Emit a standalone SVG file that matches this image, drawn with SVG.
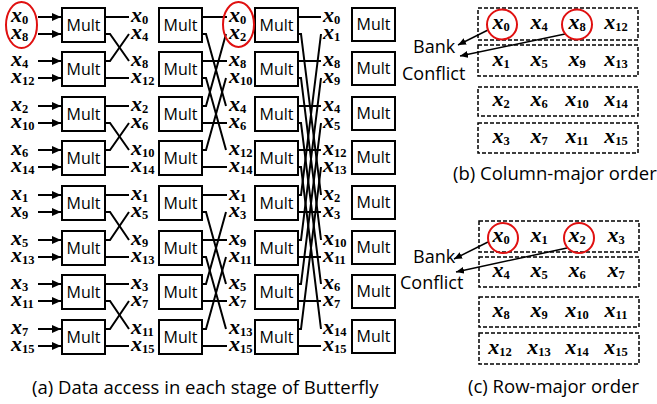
<svg xmlns="http://www.w3.org/2000/svg" width="657" height="404" viewBox="0 0 657 404">
<style>
.box{fill:#fff;stroke:#000;stroke-width:2}
.mt{font-family:"Open Sans",sans-serif;font-size:16px;text-anchor:middle;fill:#000}
.m{font-family:"Liberation Serif",serif;font-weight:bold;font-style:italic;font-size:22px;fill:#000}
.c{text-anchor:middle}
.s{font-style:normal;font-size:12.5px}
.w{fill:none;stroke:#000;stroke-width:2}
.a{fill:none;stroke:#000;stroke-width:1.5}
.red{fill:none;stroke:#e01010;stroke-width:2}
.bank{fill:none;stroke:#000;stroke-width:1.5;stroke-dasharray:4 2}
.cap{font-family:"Open Sans",sans-serif;font-size:18.5px;fill:#000}
.bk{font-family:"Open Sans",sans-serif;font-size:18px;fill:#000}
</style>
<defs>
<marker id="ah" markerUnits="userSpaceOnUse" markerWidth="9" markerHeight="8" refX="9" refY="4" orient="auto"><path d="M0,0 L9,4 L0,8 z" fill="#000"/></marker>
<marker id="ah2" markerUnits="userSpaceOnUse" markerWidth="8" markerHeight="7" refX="8" refY="3.5" orient="auto"><path d="M0,0 L8,3.5 L0,7 z" fill="#000"/></marker>
</defs>

<g id="connectors">
<g class="w" marker-end="url(#ah)">
<path d="M38 17H61"/><path d="M38 34H61"/><path d="M38 61H61"/><path d="M38 78H61"/>
<path d="M38 106H61"/><path d="M38 123H61"/><path d="M38 150H61"/><path d="M38 167H61"/>
<path d="M38 195H61"/><path d="M38 212H61"/><path d="M38 240H61"/><path d="M38 257H61"/>
<path d="M38 284H61"/><path d="M38 301H61"/><path d="M38 329H61"/><path d="M38 346H61"/>
</g>
<g class="w">
<path d="M105 17H129"/><path d="M105 34H110L129 61"/><path d="M105 61H110L129 34"/><path d="M105 78H129"/>
<path d="M105 106H129"/><path d="M105 123H110L129 150"/><path d="M105 150H110L129 123"/><path d="M105 167H129"/>
<path d="M105 195H129"/><path d="M105 212H110L129 240"/><path d="M105 240H110L129 212"/><path d="M105 257H129"/>
<path d="M105 284H129"/><path d="M105 301H110L129 329"/><path d="M105 329H110L129 301"/><path d="M105 346H129"/>

<path d="M202 17H227"/><path d="M202 34H206L226 106"/><path d="M202 61H227"/><path d="M202 78H206L226 150"/>
<path d="M202 106H206L226 34"/><path d="M202 123H227"/><path d="M202 150H206L226 78"/><path d="M202 167H227"/>
<path d="M202 195H227"/><path d="M202 212H206L226 284"/><path d="M202 240H227"/><path d="M202 257H206L226 329"/>
<path d="M202 284H206L226 212"/><path d="M202 301H227"/><path d="M202 329H206L226 257"/><path d="M202 346H227"/>

<path d="M298 17H321"/><path d="M298 34H301L321 195"/><path d="M298 61H321"/><path d="M298 78H301L321 240"/>
<path d="M298 106H321"/><path d="M298 123H301L321 284"/><path d="M298 150H321"/><path d="M298 167H301L321 329"/>
<path d="M298 195H301L321 34"/><path d="M298 212H321"/><path d="M298 240H301L321 78"/><path d="M298 257H321"/>
<path d="M298 284H301L321 123"/><path d="M298 301H321"/><path d="M298 329H301L321 167"/><path d="M298 346H321"/>
</g>
<g class="a" marker-end="url(#ah2)">
<path d="M488 30L458 45"/><path d="M565 34L460 56"/>
<path d="M488 242L454 259"/><path d="M567 248L456 272"/>
</g>
</g>

<g id="stage1">
<g id="s1b1"><rect class="box" x="62" y="8" width="43" height="34"/><text class="mt" x="83.5" y="30.5">Mult</text></g>
<g id="s1b2"><rect class="box" x="62" y="52" width="43" height="34"/><text class="mt" x="83.5" y="74.5">Mult</text></g>
<g id="s1b3"><rect class="box" x="62" y="97" width="43" height="34"/><text class="mt" x="83.5" y="119.5">Mult</text></g>
<g id="s1b4"><rect class="box" x="62" y="141" width="43" height="34"/><text class="mt" x="83.5" y="163.5">Mult</text></g>
<g id="s1b5"><rect class="box" x="62" y="186" width="43" height="34"/><text class="mt" x="83.5" y="208.5">Mult</text></g>
<g id="s1b6"><rect class="box" x="62" y="231" width="43" height="34"/><text class="mt" x="83.5" y="253.5">Mult</text></g>
<g id="s1b7"><rect class="box" x="62" y="275" width="43" height="34"/><text class="mt" x="83.5" y="297.5">Mult</text></g>
<g id="s1b8"><rect class="box" x="62" y="320" width="43" height="34"/><text class="mt" x="83.5" y="342.5">Mult</text></g>
</g>
<g id="stage2">
<g id="s2b1"><rect class="box" x="159" y="8" width="43" height="34"/><text class="mt" x="180.5" y="30.5">Mult</text></g>
<g id="s2b2"><rect class="box" x="159" y="52" width="43" height="34"/><text class="mt" x="180.5" y="74.5">Mult</text></g>
<g id="s2b3"><rect class="box" x="159" y="97" width="43" height="34"/><text class="mt" x="180.5" y="119.5">Mult</text></g>
<g id="s2b4"><rect class="box" x="159" y="141" width="43" height="34"/><text class="mt" x="180.5" y="163.5">Mult</text></g>
<g id="s2b5"><rect class="box" x="159" y="186" width="43" height="34"/><text class="mt" x="180.5" y="208.5">Mult</text></g>
<g id="s2b6"><rect class="box" x="159" y="231" width="43" height="34"/><text class="mt" x="180.5" y="253.5">Mult</text></g>
<g id="s2b7"><rect class="box" x="159" y="275" width="43" height="34"/><text class="mt" x="180.5" y="297.5">Mult</text></g>
<g id="s2b8"><rect class="box" x="159" y="320" width="43" height="34"/><text class="mt" x="180.5" y="342.5">Mult</text></g>
</g>
<g id="stage3">
<g id="s3b1"><rect class="box" x="255" y="8" width="43" height="34"/><text class="mt" x="276.5" y="30.5">Mult</text></g>
<g id="s3b2"><rect class="box" x="255" y="52" width="43" height="34"/><text class="mt" x="276.5" y="74.5">Mult</text></g>
<g id="s3b3"><rect class="box" x="255" y="97" width="43" height="34"/><text class="mt" x="276.5" y="119.5">Mult</text></g>
<g id="s3b4"><rect class="box" x="255" y="141" width="43" height="34"/><text class="mt" x="276.5" y="163.5">Mult</text></g>
<g id="s3b5"><rect class="box" x="255" y="186" width="43" height="34"/><text class="mt" x="276.5" y="208.5">Mult</text></g>
<g id="s3b6"><rect class="box" x="255" y="231" width="43" height="34"/><text class="mt" x="276.5" y="253.5">Mult</text></g>
<g id="s3b7"><rect class="box" x="255" y="275" width="43" height="34"/><text class="mt" x="276.5" y="297.5">Mult</text></g>
<g id="s3b8"><rect class="box" x="255" y="320" width="43" height="34"/><text class="mt" x="276.5" y="342.5">Mult</text></g>
</g>
<g id="stage4">
<g id="s4b1"><rect class="box" x="352" y="8" width="43" height="33"/><text class="mt" x="373.5" y="30">Mult</text></g>
<g id="s4b2"><rect class="box" x="352" y="52" width="43" height="33"/><text class="mt" x="373.5" y="74">Mult</text></g>
<g id="s4b3"><rect class="box" x="352" y="97" width="43" height="33"/><text class="mt" x="373.5" y="119">Mult</text></g>
<g id="s4b4"><rect class="box" x="352" y="141" width="43" height="33"/><text class="mt" x="373.5" y="163">Mult</text></g>
<g id="s4b5"><rect class="box" x="352" y="186" width="43" height="33"/><text class="mt" x="373.5" y="208">Mult</text></g>
<g id="s4b6"><rect class="box" x="352" y="231" width="43" height="33"/><text class="mt" x="373.5" y="253">Mult</text></g>
<g id="s4b7"><rect class="box" x="352" y="275" width="43" height="33"/><text class="mt" x="373.5" y="297">Mult</text></g>
<g id="s4b8"><rect class="box" x="352" y="320" width="43" height="33"/><text class="mt" x="373.5" y="342">Mult</text></g>
</g>

<g id="labels-in" class="m">
<text x="11" y="22">x<tspan class="s" dy="2">0</tspan></text>
<text x="11" y="39">x<tspan class="s" dy="2">8</tspan></text>
<text x="11" y="66">x<tspan class="s" dy="2">4</tspan></text>
<text x="11" y="83">x<tspan class="s" dy="2">12</tspan></text>
<text x="11" y="111">x<tspan class="s" dy="2">2</tspan></text>
<text x="11" y="128">x<tspan class="s" dy="2">10</tspan></text>
<text x="11" y="155">x<tspan class="s" dy="2">6</tspan></text>
<text x="11" y="172">x<tspan class="s" dy="2">14</tspan></text>
<text x="11" y="200">x<tspan class="s" dy="2">1</tspan></text>
<text x="11" y="217">x<tspan class="s" dy="2">9</tspan></text>
<text x="11" y="245">x<tspan class="s" dy="2">5</tspan></text>
<text x="11" y="262">x<tspan class="s" dy="2">13</tspan></text>
<text x="11" y="289">x<tspan class="s" dy="2">3</tspan></text>
<text x="11" y="306">x<tspan class="s" dy="2">11</tspan></text>
<text x="11" y="334">x<tspan class="s" dy="2">7</tspan></text>
<text x="11" y="351">x<tspan class="s" dy="2">15</tspan></text>
</g>
<g id="labels-s1" class="m">
<text x="131" y="22">x<tspan class="s" dy="2">0</tspan></text>
<text x="131" y="39">x<tspan class="s" dy="2">4</tspan></text>
<text x="131" y="66">x<tspan class="s" dy="2">8</tspan></text>
<text x="131" y="83">x<tspan class="s" dy="2">12</tspan></text>
<text x="131" y="111">x<tspan class="s" dy="2">2</tspan></text>
<text x="131" y="128">x<tspan class="s" dy="2">6</tspan></text>
<text x="131" y="155">x<tspan class="s" dy="2">10</tspan></text>
<text x="131" y="172">x<tspan class="s" dy="2">14</tspan></text>
<text x="131" y="200">x<tspan class="s" dy="2">1</tspan></text>
<text x="131" y="217">x<tspan class="s" dy="2">5</tspan></text>
<text x="131" y="245">x<tspan class="s" dy="2">9</tspan></text>
<text x="131" y="262">x<tspan class="s" dy="2">13</tspan></text>
<text x="131" y="289">x<tspan class="s" dy="2">3</tspan></text>
<text x="131" y="306">x<tspan class="s" dy="2">7</tspan></text>
<text x="131" y="334">x<tspan class="s" dy="2">11</tspan></text>
<text x="131" y="351">x<tspan class="s" dy="2">15</tspan></text>
</g>
<g id="labels-s2" class="m">
<text x="229" y="22">x<tspan class="s" dy="2">0</tspan></text>
<text x="229" y="39">x<tspan class="s" dy="2">2</tspan></text>
<text x="229" y="66">x<tspan class="s" dy="2">8</tspan></text>
<text x="229" y="83">x<tspan class="s" dy="2">10</tspan></text>
<text x="229" y="111">x<tspan class="s" dy="2">4</tspan></text>
<text x="229" y="128">x<tspan class="s" dy="2">6</tspan></text>
<text x="229" y="155">x<tspan class="s" dy="2">12</tspan></text>
<text x="229" y="172">x<tspan class="s" dy="2">14</tspan></text>
<text x="229" y="200">x<tspan class="s" dy="2">1</tspan></text>
<text x="229" y="217">x<tspan class="s" dy="2">3</tspan></text>
<text x="229" y="245">x<tspan class="s" dy="2">9</tspan></text>
<text x="229" y="262">x<tspan class="s" dy="2">11</tspan></text>
<text x="229" y="289">x<tspan class="s" dy="2">5</tspan></text>
<text x="229" y="306">x<tspan class="s" dy="2">7</tspan></text>
<text x="229" y="334">x<tspan class="s" dy="2">13</tspan></text>
<text x="229" y="351">x<tspan class="s" dy="2">15</tspan></text>
</g>
<g id="labels-s3" class="m">
<text x="323" y="22">x<tspan class="s" dy="2">0</tspan></text>
<text x="323" y="39">x<tspan class="s" dy="2">1</tspan></text>
<text x="323" y="66">x<tspan class="s" dy="2">8</tspan></text>
<text x="323" y="83">x<tspan class="s" dy="2">9</tspan></text>
<text x="323" y="111">x<tspan class="s" dy="2">4</tspan></text>
<text x="323" y="128">x<tspan class="s" dy="2">5</tspan></text>
<text x="323" y="155">x<tspan class="s" dy="2">12</tspan></text>
<text x="323" y="172">x<tspan class="s" dy="2">13</tspan></text>
<text x="323" y="200">x<tspan class="s" dy="2">2</tspan></text>
<text x="323" y="217">x<tspan class="s" dy="2">3</tspan></text>
<text x="323" y="245">x<tspan class="s" dy="2">10</tspan></text>
<text x="323" y="262">x<tspan class="s" dy="2">11</tspan></text>
<text x="323" y="289">x<tspan class="s" dy="2">6</tspan></text>
<text x="323" y="306">x<tspan class="s" dy="2">7</tspan></text>
<text x="323" y="334">x<tspan class="s" dy="2">14</tspan></text>
<text x="323" y="351">x<tspan class="s" dy="2">15</tspan></text>
</g>
<g id="highlights-a">
<ellipse class="red" cx="21.5" cy="25" rx="15.5" ry="23"/>
<ellipse class="red" cx="238.5" cy="24.5" rx="15.5" ry="22.5"/>
</g>

<g id="panel-b">
<rect class="bank" x="478" y="8" width="160" height="32"/>
<rect class="bank" x="478" y="45" width="160" height="31"/>
<rect class="bank" x="478" y="87" width="160" height="29"/>
<rect class="bank" x="478" y="123" width="160" height="30"/>
<g class="m c">
<text x="501" y="29">x<tspan class="s" dy="2">0</tspan></text>
<text x="539" y="29">x<tspan class="s" dy="2">4</tspan></text>
<text x="577" y="29">x<tspan class="s" dy="2">8</tspan></text>
<text x="616" y="29">x<tspan class="s" dy="2">12</tspan></text>
<text x="501" y="65.5">x<tspan class="s" dy="2">1</tspan></text>
<text x="539" y="65.5">x<tspan class="s" dy="2">5</tspan></text>
<text x="577" y="65.5">x<tspan class="s" dy="2">9</tspan></text>
<text x="616" y="65.5">x<tspan class="s" dy="2">13</tspan></text>
<text x="501" y="106">x<tspan class="s" dy="2">2</tspan></text>
<text x="539" y="106">x<tspan class="s" dy="2">6</tspan></text>
<text x="577" y="106">x<tspan class="s" dy="2">10</tspan></text>
<text x="616" y="106">x<tspan class="s" dy="2">14</tspan></text>
<text x="501" y="143">x<tspan class="s" dy="2">3</tspan></text>
<text x="539" y="143">x<tspan class="s" dy="2">7</tspan></text>
<text x="577" y="143">x<tspan class="s" dy="2">11</tspan></text>
<text x="616" y="143">x<tspan class="s" dy="2">15</tspan></text>
</g>
<circle class="red" cx="502" cy="24.5" r="15"/>
<circle class="red" cx="577" cy="24.5" r="15"/>
<text class="bk" x="413" y="53">Bank</text>
<text class="bk" x="402" y="80">Conflict</text>
<text class="cap" x="453" y="180">(b) Column-major order</text>
</g>

<g id="panel-c">
<rect class="bank" x="479" y="221" width="160" height="31"/>
<rect class="bank" x="479" y="257" width="160" height="30"/>
<rect class="bank" x="479" y="297" width="160" height="30"/>
<rect class="bank" x="479" y="333" width="160" height="31"/>
<g class="m c">
<text x="501" y="241.5">x<tspan class="s" dy="2">0</tspan></text>
<text x="539" y="241.5">x<tspan class="s" dy="2">1</tspan></text>
<text x="577" y="241.5">x<tspan class="s" dy="2">2</tspan></text>
<text x="616" y="241.5">x<tspan class="s" dy="2">3</tspan></text>
<text x="501" y="277">x<tspan class="s" dy="2">4</tspan></text>
<text x="539" y="277">x<tspan class="s" dy="2">5</tspan></text>
<text x="577" y="277">x<tspan class="s" dy="2">6</tspan></text>
<text x="616" y="277">x<tspan class="s" dy="2">7</tspan></text>
<text x="501" y="317">x<tspan class="s" dy="2">8</tspan></text>
<text x="539" y="317">x<tspan class="s" dy="2">9</tspan></text>
<text x="577" y="317">x<tspan class="s" dy="2">10</tspan></text>
<text x="616" y="317">x<tspan class="s" dy="2">11</tspan></text>
<text x="500" y="353.5">x<tspan class="s" dy="2">12</tspan></text>
<text x="539" y="353.5">x<tspan class="s" dy="2">13</tspan></text>
<text x="577" y="353.5">x<tspan class="s" dy="2">14</tspan></text>
<text x="616" y="353.5">x<tspan class="s" dy="2">15</tspan></text>
</g>
<circle class="red" cx="503" cy="238" r="15"/>
<circle class="red" cx="579" cy="238" r="15"/>
<text class="bk" x="413" y="263">Bank</text>
<text class="bk" x="400" y="289">Conflict</text>
<text class="cap" x="468" y="393">(c) Row-major order</text>
</g>

<text id="caption-a" class="cap" x="32" y="394">(a) Data access in each stage of Butterfly</text>
</svg>
